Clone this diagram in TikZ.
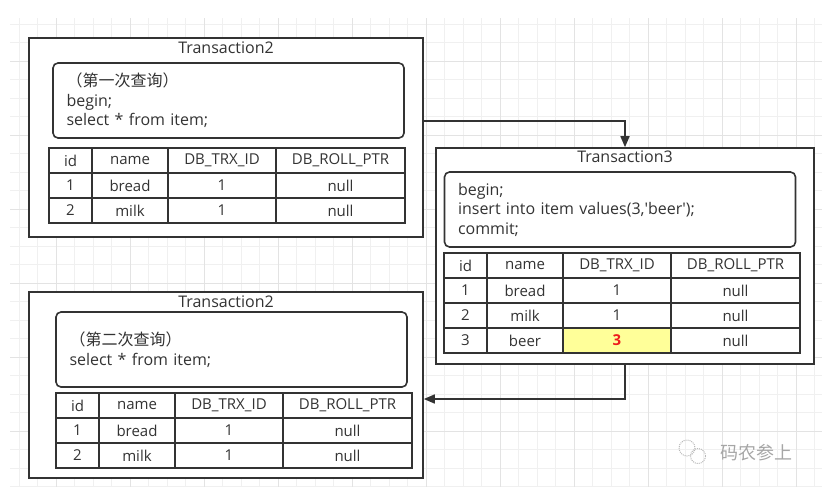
\documentclass[tikz,border=0pt]{standalone}
\usepackage{fontspec}
\setmainfont{Open Sans}
\newfontfamily\cjkfont{Noto Sans CJK SC}
\usepackage{xcolor}
\usetikzlibrary{arrows.meta, positioning}
\definecolor{linec}{HTML}{333333}
\definecolor{textc}{HTML}{333333}
\definecolor{gridminor}{HTML}{F0F0F0}
\definecolor{gridmajor}{HTML}{E3E3E3}
\definecolor{hlcell}{HTML}{FFFF99}
\definecolor{hltext}{HTML}{EE1C1C}

\begin{document}
\begin{tikzpicture}[x=1pt, y=-1pt,
  every node/.style={text=textc, font=\fontsize{16}{19.5}\selectfont},
  trx/.style={draw=linec, fill=white, line width=1.6pt, inner sep=0pt},
  sqlbox/.style={draw=linec, fill=white, line width=1.6pt, rounded corners=5pt,
    minimum height=75pt, text width=324pt, inner xsep=13.5pt, align=left},
  cell/.style={draw=linec, line width=1.6pt, minimum height=25pt, inner sep=0pt, outer sep=0pt,
    font=\fontsize{15}{18}\selectfont},
  colid/.style={cell, minimum width=43pt},
  colname/.style={cell, minimum width=76pt},
  coltrx/.style={cell, minimum width=108pt},
  colptr/.style={cell, minimum width=129pt},
  flow/.style={draw=linec, line width=1.6pt, -{Triangle[length=11pt,width=9pt]}}]
  \useasboundingbox (0,0) rectangle (826,501);

  % background grid
  \foreach \gx in {0,...,43} \draw[gridminor] ({19+18.5*\gx},18) -- ({19+18.5*\gx},487);
  \foreach \gy in {0,...,25} \draw[gridminor] (10,{24+18.5*\gy}) -- (822,{24+18.5*\gy});
  \foreach \gx in {0,...,10} \draw[gridmajor] ({56+74*\gx},18) -- ({56+74*\gx},487);
  \foreach \gy in {0,...,5} \draw[gridmajor] (10,{61+74*\gy}) -- (822,{61+74*\gy});

  % transaction boxes
  \node[trx, minimum width=394pt, minimum height=199pt] (ta) at (226,137.5) {};
  \node[trx, minimum width=378pt, minimum height=216pt] (tc) at (625,256) {};
  \node[trx, minimum width=394pt, minimum height=186pt] (tb) at (226,385) {};
  \node (ta-title) at ([yshift=-11pt]ta.north) {Transaction2};
  \node (tc-title) at ([yshift=-10pt]tc.north) {Transaction3};
  \node (tb-title) at ([yshift=-10pt]tb.north) {Transaction2};

  % statements
  \node[sqlbox] (sqla) at (228.5,100.5) {{\cjkfont （第一次查询）}\\begin;\\select * from item;};
  \node[sqlbox] (sqlc) at (620,209.5) {begin;\\insert into item values(3,\textquotesingle beer\textquotesingle);\\commit;};
  \node[sqlbox] (sqlb) at (231.5,349.5) {{\cjkfont （第二次查询）}\\select * from item;};

  % item tables
  \foreach \t/\ox/\oy in {ta/49/148, tb/56/393, tc/444/253} {
    \foreach \r/\a/\b/\c/\d in {0/id/name/DB\_TRX\_ID/DB\_ROLL\_PTR, 1/1/bread/1/null, 2/2/milk/1/null} {
      \node[colid] (\t-\r-1) at ({\ox+21.5},{\oy+12.5+25*\r}) {\a};
      \node[colname, right=0pt of \t-\r-1] (\t-\r-2) {\b};
      \node[coltrx, right=0pt of \t-\r-2] (\t-\r-3) {\c};
      \node[colptr, right=0pt of \t-\r-3] (\t-\r-4) {\d};
    }
  }
  \node[colid] (tc-3-1) at (465.5,340.5) {3};
  \node[colname, right=0pt of tc-3-1] (tc-3-2) {beer};
  \node[coltrx, fill=hlcell, right=0pt of tc-3-2] (tc-3-3) {\textcolor{hltext}{\bfseries 3}};
  \node[colptr, right=0pt of tc-3-3] (tc-3-4) {null};

  % flow between transactions
  \draw[flow] ([yshift=16.5pt]ta.east) -| (tc.north);
  \draw[flow] (tc.south) |- ([yshift=-14pt]tb.east);

  % watermark
  \draw[gray!55, densely dotted, line width=1pt] (687,448) circle (8);
  \draw[gray!55, densely dotted, line width=1pt] (698,456) circle (7.5);
  \node[text=gray!70, font=\cjkfont\fontsize{18}{18}\selectfont] (mark) at (756,453) {码农参上};
\end{tikzpicture}
\end{document}
